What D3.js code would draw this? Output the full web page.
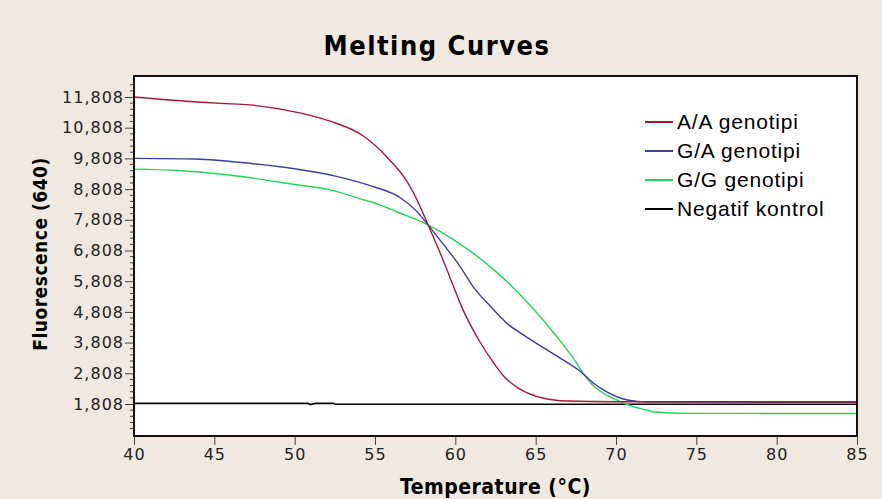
<!DOCTYPE html>
<html>
<head>
<meta charset="utf-8">
<script src="https://cdn.jsdelivr.net/npm/d3@7"></script>
<style>
  body { margin: 0; background: #efe9e1; }
  svg { display: block; }
</style>
</head>
<body>
<script>
// readings taken off the melting curve picture (temperature in C, fluorescence)
const aaTemp = [40, 42.2, 45.4, 47.2, 50.3, 52.2, 54.3, 55.9, 57.0, 57.8, 58.3, 59.0, 59.5, 60.5, 61.5, 62.4, 63.0, 64.0, 65.5, 66.9, 70, 85];
const aaFluo = [11808, 11710, 11600, 11550, 11290, 11020, 10530, 9765, 9050, 8250, 7644, 6800, 6150, 4850, 3860, 3135, 2720, 2300, 1994, 1906, 1883, 1880];

const gaTemp = [40, 43.8, 47.4, 50.1, 52.6, 54.7, 56.6, 57.6, 58.3, 59.2, 60.3, 61.1, 62.2, 63.2, 64.4, 65.7, 66.7, 67.8, 68.6, 69.4, 70.7, 72, 85];
const gaFluo = [9808, 9787, 9636, 9463, 9223, 8919, 8518, 8083, 7644, 7047, 6286, 5634, 4981, 4440, 4004, 3569, 3243, 2861, 2483, 2209, 1938, 1870, 1860];

const ggTemp = [40, 42.7, 45.8, 47.8, 50.1, 52.2, 54.3, 55.3, 56.3, 58.3, 59.9, 61.1, 62.4, 63.6, 64.6, 65.7, 66.7, 67.5, 68.0, 68.5, 69.0, 69.8, 71.1, 71.9, 72.3, 74.4, 85];
const ggFluo = [9460, 9415, 9275, 9134, 8949, 8785, 8459, 8296, 8079, 7644, 7155, 6721, 6177, 5600, 5050, 4400, 3750, 3180, 2780, 2450, 2230, 2000, 1720, 1612, 1557, 1503, 1500];

const negTemp = [40, 50.8, 51.0, 51.3, 52.4, 52.5, 85];
const negFluo = [1830, 1830, 1790, 1830, 1830, 1800, 1800];

const seriesNames = ["A/A genotipi", "G/A genotipi", "G/G genotipi", "Negatif kontrol"];
const seriesColors = ["#a8163a", "#3c3c9c", "#22d45c", "#000000"];

const xTicks = [40, 45, 50, 55, 60, 65, 70, 75, 80, 85];
const yTicks = [1808, 2808, 3808, 4808, 5808, 6808, 7808, 8808, 9808, 10808, 11808];

const width = 882, height = 499;
const plot = {left: 134, right: 857, top: 76, bottom: 436};

const svg = d3.select("body").append("svg")
    .attr("width", width)
    .attr("height", height);

svg.append("rect")
    .attr("width", width).attr("height", height)
    .attr("fill", "#efe9e1");

const x = d3.scaleLinear().domain([40, 85]).range([plot.left, plot.right]);
const y = d3.scaleLinear().domain([766, 12492]).range([plot.bottom, plot.top]);

svg.append("rect")
    .attr("x", plot.left).attr("y", plot.top)
    .attr("width", plot.right - plot.left).attr("height", plot.bottom - plot.top)
    .attr("fill", "#fff");

// minor ticks on the y axis, every 200
const minor = d3.range(1008, 12400, 200).filter(v => !yTicks.includes(v));
svg.append("g")
    .selectAll("line")
    .data(minor)
    .join("line")
      .attr("x1", plot.left - 4).attr("x2", plot.left)
      .attr("y1", d => y(d)).attr("y2", d => y(d))
      .attr("stroke", "#444").attr("stroke-width", 1);

const yAxis = svg.append("g")
    .attr("transform", `translate(${plot.left},0)`)
    .call(d3.axisLeft(y).tickValues(yTicks).tickFormat(d3.format(",")).tickSize(9).tickPadding(1));

const xAxis = svg.append("g")
    .attr("transform", `translate(0,${plot.bottom})`)
    .call(d3.axisBottom(x).tickValues(xTicks).tickSize(9).tickPadding(4));

[yAxis, xAxis].forEach(g => {
  g.select(".domain").remove();
  g.selectAll(".tick line").attr("stroke", "#444");
  g.selectAll("text")
    .attr("fill", "#222")
    .style("font-family", "DejaVu Sans")
    .style("font-size", "16px")
    .style("letter-spacing", "1px");
});

const smooth = d3.line()
    .curve(d3.curveMonotoneX)
    .x(d => x(d[0]))
    .y(d => y(d[1]));

const straight = d3.line()
    .x(d => x(d[0]))
    .y(d => y(d[1]));

const series = [
  d3.zip(aaTemp, aaFluo),
  d3.zip(gaTemp, gaFluo),
  d3.zip(ggTemp, ggFluo),
  d3.zip(negTemp, negFluo)
];

// draw order: negative, green, blue, red
[3, 2, 1, 0].forEach(i => {
  svg.append("path")
      .datum(series[i])
      .attr("fill", "none")
      .attr("stroke", seriesColors[i])
      .attr("stroke-width", i === 3 ? 1.6 : 1.4)
      .attr("d", i === 3 ? straight : smooth);
});

svg.append("rect")
    .attr("x", plot.left).attr("y", plot.top)
    .attr("width", plot.right - plot.left).attr("height", plot.bottom - plot.top)
    .attr("fill", "none")
    .attr("stroke", "#111")
    .attr("stroke-width", 2);

// legend
const legend = svg.append("g")
    .selectAll("g")
    .data(seriesNames)
    .join("g")
      .attr("transform", (d, i) => `translate(645,${122 + i * 29})`);

legend.append("line")
    .attr("x1", 0).attr("x2", 28)
    .attr("stroke", (d, i) => seriesColors[i])
    .attr("stroke-width", 2);

legend.append("text")
    .attr("x", 32).attr("y", 7)
    .style("font-family", "Liberation Sans, Arial, sans-serif")
    .style("font-size", "21px")
    .style("letter-spacing", "0.8px")
    .text(d => d);

// titles
svg.append("text")
    .attr("x", 437).attr("y", 55)
    .attr("text-anchor", "middle")
    .style("font-family", "DejaVu Sans Condensed, DejaVu Sans")
    .style("font-weight", "bold")
    .style("font-size", "27px")
    .style("letter-spacing", "1.5px")
    .text("Melting Curves");

svg.append("text")
    .attr("x", (plot.left + plot.right) / 2).attr("y", 494)
    .attr("text-anchor", "middle")
    .style("font-family", "DejaVu Sans Condensed, DejaVu Sans")
    .style("font-weight", "bold")
    .style("font-size", "21px")
    .style("letter-spacing", "0.5px")
    .text("Temperature (°C)");

svg.append("text")
    .attr("transform", `translate(47,${(plot.top + plot.bottom) / 2 - 2}) rotate(-90)`)
    .attr("text-anchor", "middle")
    .style("font-family", "DejaVu Sans Condensed, DejaVu Sans")
    .style("font-weight", "bold")
    .style("font-size", "19px")
    .style("letter-spacing", "0.5px")
    .text("Fluorescence (640)");
</script>
</body>
</html>
